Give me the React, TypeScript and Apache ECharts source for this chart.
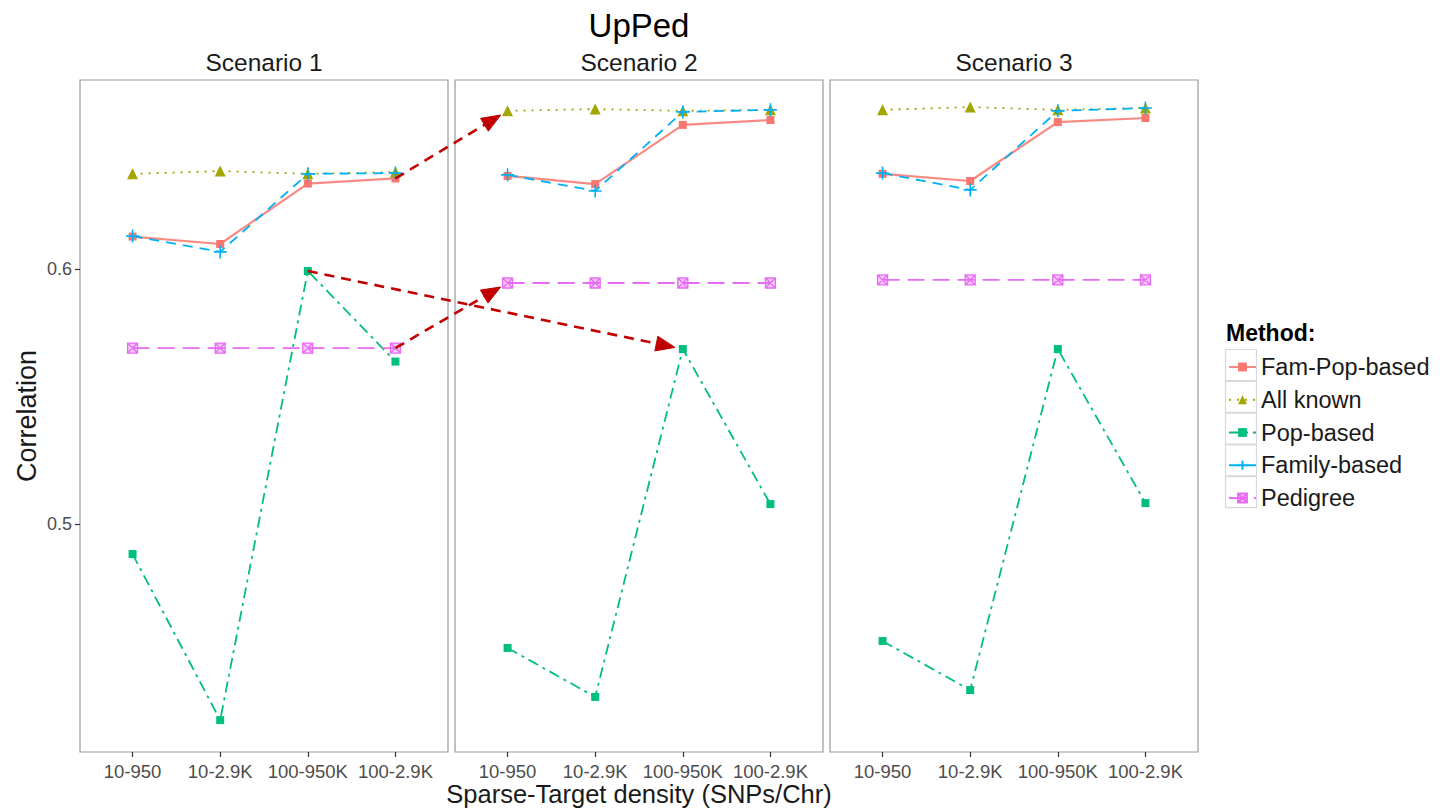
import React, { useEffect, useRef } from 'react';
import * as echarts from 'echarts';

const categories = ['10-950', '10-2.9K', '100-950K', '100-2.9K'];
const scenarios = ['Scenario 1', 'Scenario 2', 'Scenario 3'];
const methods = ['Fam-Pop-based', 'All known', 'Pop-based', 'Family-based', 'Pedigree'];
const xTitle = 'Sparse-Target density (SNPs/Chr)';

// values per scenario (rows) and density category (columns)
const famPop = [
  [0.6127, 0.6098, 0.6335, 0.6355],
  [0.6365, 0.6333, 0.6565, 0.6584],
  [0.6373, 0.6345, 0.6576, 0.6592],
];
const allKnown = [
  [0.6373, 0.6384, 0.6373, 0.638],
  [0.662, 0.6627, 0.662, 0.6624],
  [0.6624, 0.6635, 0.6624, 0.6631],
];
const popBased = [
  [0.4882, 0.4231, 0.5992, 0.5637],
  [0.4514, 0.4322, 0.5686, 0.5078],
  [0.4541, 0.4349, 0.5686, 0.5082],
];
const familyBased = [
  [0.6129, 0.6067, 0.6373, 0.6376],
  [0.6369, 0.6306, 0.6616, 0.6624],
  [0.6376, 0.631, 0.662, 0.6631],
];
const pedigree = [
  [0.569, 0.569, 0.569, 0.569],
  [0.5945, 0.5945, 0.5945, 0.5945],
  [0.5957, 0.5957, 0.5957, 0.5957],
];
const yTicks = [0.5, 0.6];
const yMin = 0.4106;
const yMax = 0.6741;

// annotation arrows: [scenario, method, category] -> [scenario, method, category]
const arrowFrom = [
  [0, 0, 3],
  [0, 2, 2],
  [0, 4, 3],
];
const arrowTo = [
  [1, 1, 0],
  [1, 2, 2],
  [1, 4, 0],
];

const seriesValues = [famPop, allKnown, popBased, familyBased, pedigree];

const FONT = '"Liberation Sans", Arial, Helvetica, sans-serif';
const colors = ['#F8766D', '#A3A500', '#00BF7D', '#00B0F6', '#E76BF3'];
const dashes: any[] = ['solid', [2, 6], [11, 5, 3, 5], [10, 7], [17, 8]];
const symbols = [
  'rect',
  'triangle',
  'rect',
  'path://M5,0V10M0,5H10',
  'path://M0,0H10V10H0ZM0,0L10,10M10,0L0,10',
];
const symbolSizes = [8, 11, 8, 13, 10];
const itemStyles: any[] = [
  { color: colors[0] },
  { color: colors[1] },
  { color: colors[2] },
  { color: 'none', borderColor: colors[3], borderWidth: 1.6 },
  { color: 'rgba(231,107,243,0.35)', borderColor: colors[4], borderWidth: 1.3 },
];

const gridLefts = [80, 455, 830];
const gridWidth = 368;
const gridTop = 80;
const gridHeight = 672;

export default function App() {
  const ref = useRef<HTMLDivElement>(null);
  useEffect(() => {
    document.body.style.margin = '0';
    const chart = echarts.init(ref.current!, null, { renderer: 'svg' });
    const grids = gridLefts.map((l) => ({
      left: l,
      top: gridTop,
      width: gridWidth,
      height: gridHeight,
      containLabel: false,
      outerBoundsMode: 'none',
      show: true,
      borderColor: '#9a9a9a',
      borderWidth: 1.2,
      backgroundColor: '#fff',
    }));
    const xAxes = gridLefts.map((_, i) => ({
      type: 'value',
      gridIndex: i,
      min: 0.4,
      max: 4.6,
      axisLine: { show: false },
      splitLine: { show: false },
      axisTick: { show: true, length: 5, customValues: [1, 2, 3, 4], lineStyle: { color: '#333', width: 1.2 } },
      axisLabel: {
        customValues: [1, 2, 3, 4],
        formatter: (v: number) => categories[Math.round(v) - 1],
        fontFamily: FONT,
        fontSize: 18.5,
        color: '#4d4d4d',
        margin: 10,
      },
    }));
    const yAxes = gridLefts.map((_, i) => ({
      type: 'value',
      gridIndex: i,
      min: yMin,
      max: yMax,
      axisLine: { show: false },
      splitLine: { show: false },
      axisTick: { show: i === 0, length: 5, customValues: yTicks, lineStyle: { color: '#333', width: 1.2 } },
      axisLabel: {
        show: i === 0,
        customValues: yTicks,
        fontFamily: FONT,
        fontSize: 18,
        color: '#4d4d4d',
        margin: 8,
      },
      name: i === 0 ? 'Correlation' : '',
      nameLocation: 'middle',
      nameRotate: 90,
      nameGap: 40,
      nameTextStyle: { fontFamily: FONT, fontSize: 27, color: '#1a1a1a' },
    }));
    const series: any[] = [];
    methods.forEach((m, mi) => {
      scenarios.forEach((_, si) => {
        series.push({
          type: 'line',
          name: m,
          xAxisIndex: si,
          yAxisIndex: si,
          data: seriesValues[mi][si].map((v, ci) => [ci + 1, v]),
          symbol: symbols[mi],
          symbolSize: symbolSizes[mi],
          showSymbol: true,
          itemStyle: itemStyles[mi],
          lineStyle: { color: colors[mi], width: mi === 0 ? 2.2 : 1.8, type: dashes[mi], opacity: mi === 0 ? 0.85 : 1 },
          z: 2 + mi,
          emphasis: { disabled: true },
        });
      });
    });
    chart.setOption({
      animation: false,
      grid: grids,
      xAxis: xAxes,
      yAxis: yAxes,
      series,
      legend: {
        data: methods,
        orient: 'vertical',
        left: 1228,
        top: 355,
        padding: 0,
        itemWidth: 27,
        itemHeight: 11,
        itemGap: 8.75,
        z: 10,
        textStyle: { fontFamily: FONT, fontSize: 23.5, color: '#1a1a1a', lineHeight: 23, padding: [0, 0, 0, 0] },
        selectedMode: false,
      },
    });

    const els: any[] = [];
    els.push({
      type: 'text',
      x: gridLefts[1] + gridWidth / 2,
      y: 25,
      style: { text: 'UpPed', font: `33px ${FONT}`, fill: '#000', align: 'center', verticalAlign: 'middle' },
    });
    els.push({
      type: 'text',
      x: gridLefts[1] + gridWidth / 2,
      y: 794,
      style: { text: xTitle, font: `25.5px ${FONT}`, fill: '#1a1a1a', align: 'center', verticalAlign: 'middle' },
    });
    scenarios.forEach((s, i) => {
      els.push({
        type: 'text',
        x: gridLefts[i] + gridWidth / 2,
        y: 62,
        style: { text: s, font: `24.5px ${FONT}`, fill: '#1a1a1a', align: 'center', verticalAlign: 'middle' },
      });
    });
    els.push({
      type: 'text',
      x: 1226,
      y: 333,
      style: { text: 'Method:', font: `bold 23px ${FONT}`, fill: '#000', align: 'left', verticalAlign: 'middle' },
    });
    methods.forEach((_, i) => {
      els.push({
        type: 'rect',
        z: 1,
        shape: { x: 1225.5, y: 349.5 + i * 31.8, width: 31, height: 31 },
        style: { fill: '#fff', stroke: '#d9d9d9', lineWidth: 1.2 },
      });
    });
    arrowFrom.forEach((f, k) => {
      const t = arrowTo[k];
      const p0 = chart.convertToPixel({ xAxisIndex: f[0], yAxisIndex: f[0] }, [f[2] + 1, seriesValues[f[1]][f[0]][f[2]]]) as number[];
      const p1 = chart.convertToPixel({ xAxisIndex: t[0], yAxisIndex: t[0] }, [t[2] + 1, seriesValues[t[1]][t[0]][t[2]]]) as number[];
      const dx = p1[0] - p0[0];
      const dy = p1[1] - p0[1];
      const len = Math.sqrt(dx * dx + dy * dy);
      const ux = dx / len;
      const uy = dy / len;
      const tip = [p1[0] - ux * 8, p1[1] - uy * 8];
      const L = 19;
      const W = 7.5;
      const base = [tip[0] - ux * L, tip[1] - uy * L];
      els.push({
        type: 'line',
        z: 50,
        shape: { x1: p0[0], y1: p0[1], x2: base[0], y2: base[1] },
        style: { stroke: '#C00000', lineWidth: 2.6, lineDash: [10, 7] },
      });
      els.push({
        type: 'polygon',
        z: 50,
        shape: {
          points: [
            tip,
            [base[0] - uy * W, base[1] + ux * W],
            [base[0] + uy * W, base[1] - ux * W],
          ],
        },
        style: { fill: '#C00000', stroke: '#C00000', lineWidth: 1 },
      });
    });
    chart.setOption({ graphic: { elements: els } });
    return () => chart.dispose();
  }, []);
  return <div ref={ref} style={{ width: 1443, height: 811 }} />;
}
